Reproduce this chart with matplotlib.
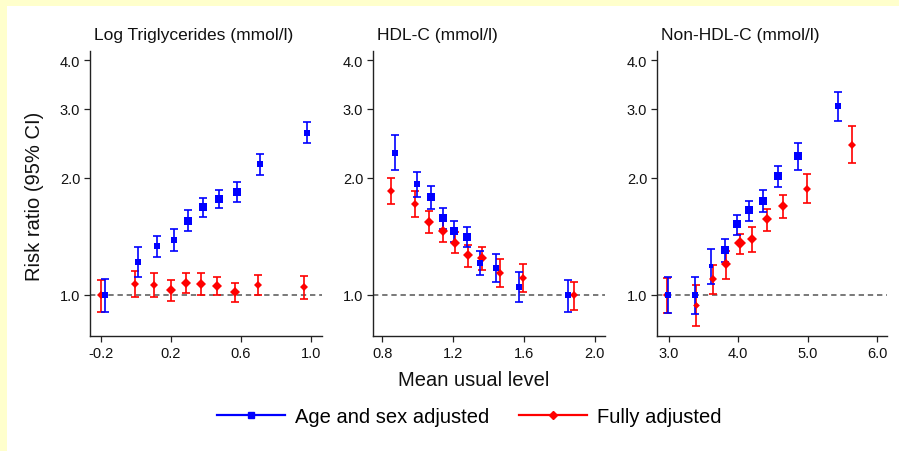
import matplotlib
matplotlib.use('Agg')
import matplotlib.pyplot as plt
from matplotlib.lines import Line2D
from matplotlib.patches import Rectangle
from matplotlib.ticker import FixedLocator, NullLocator

plt.rcParams['font.family'] = ['Liberation Sans', 'DejaVu Sans']

# ---------------- data ----------------
panel_titles = ["Log Triglycerides (mmol/l)", "HDL-C (mmol/l)", "Non-HDL-C (mmol/l)"]
series_labels = ["Age and sex adjusted", "Fully adjusted"]
x_label = "Mean usual level"
y_label = "Risk ratio (95% CI)"
y_ticks = [1.0, 2.0, 3.0, 4.0]
y_ticklabels = ["1.0", "2.0", "3.0", "4.0"]

# Log triglycerides
tg_xticks = [-0.2, 0.2, 0.6, 1.0]
tg_age_x = [-0.175, 0.011, 0.12, 0.217, 0.299, 0.383, 0.476, 0.577, 0.71, 0.98]
tg_age_rr = [1.00, 1.213, 1.333, 1.386, 1.55, 1.678, 1.763, 1.84, 2.16, 2.605]
tg_age_lo = [0.903, 1.11, 1.254, 1.30, 1.459, 1.58, 1.674, 1.735, 2.03, 2.447]
tg_age_hi = [1.10, 1.33, 1.42, 1.476, 1.65, 1.77, 1.86, 1.95, 2.30, 2.77]
tg_full_x = [-0.195, -0.004, 0.106, 0.202, 0.287, 0.373, 0.466, 0.567, 0.697, 0.958]
tg_full_rr = [1.00, 1.067, 1.063, 1.028, 1.071, 1.069, 1.055, 1.016, 1.059, 1.046]
tg_full_lo = [0.906, 0.99, 0.99, 0.963, 1.01, 1.00, 0.998, 0.96, 1.00, 0.977]
tg_full_hi = [1.09, 1.154, 1.137, 1.095, 1.14, 1.139, 1.112, 1.073, 1.127, 1.12]

# HDL-C
hdl_xticks = [0.8, 1.2, 1.6, 2.0]
hdl_age_x = [0.874, 0.996, 1.077, 1.143, 1.207, 1.277, 1.351, 1.441, 1.57, 1.847]
hdl_age_rr = [2.316, 1.92, 1.786, 1.572, 1.456, 1.408, 1.21, 1.173, 1.05, 1.00]
hdl_age_lo = [2.094, 1.78, 1.66, 1.476, 1.37, 1.325, 1.125, 1.082, 0.962, 0.907]
hdl_age_hi = [2.566, 2.07, 1.906, 1.668, 1.55, 1.496, 1.30, 1.27, 1.143, 1.094]
hdl_full_x = [0.847, 0.983, 1.066, 1.14, 1.209, 1.284, 1.364, 1.464, 1.594, 1.883]
hdl_full_rr = [1.85, 1.707, 1.54, 1.456, 1.36, 1.264, 1.244, 1.139, 1.104, 1.00]
hdl_full_lo = [1.714, 1.585, 1.444, 1.364, 1.28, 1.18, 1.16, 1.046, 1.015, 0.915]
hdl_full_hi = [1.995, 1.85, 1.645, 1.55, 1.448, 1.346, 1.33, 1.235, 1.198, 1.082]

# Non-HDL-C
nhdl_xticks = [3.0, 4.0, 5.0, 6.0]
nhdl_age_x = [2.99, 3.386, 3.614, 3.806, 3.977, 4.162, 4.353, 4.567, 4.853, 5.434]
nhdl_age_rr = [1.00, 1.00, 1.19, 1.304, 1.517, 1.654, 1.744, 2.02, 2.275, 3.055]
nhdl_age_lo = [0.899, 0.895, 1.069, 1.213, 1.425, 1.55, 1.63, 1.895, 2.094, 2.80]
nhdl_age_hi = [1.11, 1.11, 1.314, 1.391, 1.606, 1.745, 1.862, 2.14, 2.45, 3.31]
nhdl_full_x = [2.977, 3.39, 3.634, 3.82, 4.02, 4.2, 4.41, 4.648, 4.986, 5.634]
nhdl_full_rr = [1.00, 0.94, 1.10, 1.198, 1.359, 1.391, 1.562, 1.686, 1.873, 2.43]
nhdl_full_lo = [0.901, 0.834, 1.008, 1.10, 1.274, 1.29, 1.46, 1.575, 1.718, 2.18]
nhdl_full_hi = [1.104, 1.061, 1.193, 1.30, 1.434, 1.49, 1.66, 1.80, 2.04, 2.71]

# ---------------- styling ----------------
W, H = 899, 452
BLUE = '#0000FF'
RED = '#FF0000'
YELLOW = '#FFFFCC'

# marker sizes (points) for each panel's points
tg_age_ms = [4.2, 3.8, 5.0, 5.0, 5.6, 5.8, 6.0, 5.6, 5.0, 5.0]
tg_full_ms = [3.7, 4.4, 4.4, 4.6, 4.6, 4.6, 4.8, 4.6, 4.4, 4.4]
hdl_age_ms = [4.2, 5.0, 6.0, 6.0, 6.0, 6.2, 5.0, 5.0, 4.5, 4.5]
hdl_full_ms = [4.0, 4.2, 4.6, 4.6, 4.9, 4.6, 4.6, 4.2, 3.9, 3.7]
nhdl_age_ms = [4.0, 3.8, 3.5, 5.5, 6.2, 6.2, 6.2, 6.2, 5.5, 4.8]
nhdl_full_ms = [4.0, 3.4, 4.0, 4.7, 5.7, 5.0, 5.3, 5.0, 4.4, 4.0]

panels = [
    dict(title=panel_titles[0], xticks=tg_xticks, xlim=(-0.26, 1.063),
         age=(tg_age_x, tg_age_rr, tg_age_lo, tg_age_hi, tg_age_ms),
         full=(tg_full_x, tg_full_rr, tg_full_lo, tg_full_hi, tg_full_ms),
         left=90, right=322),
    dict(title=panel_titles[1], xticks=hdl_xticks, xlim=(0.747, 2.057),
         age=(hdl_age_x, hdl_age_rr, hdl_age_lo, hdl_age_hi, hdl_age_ms),
         full=(hdl_full_x, hdl_full_rr, hdl_full_lo, hdl_full_hi, hdl_full_ms),
         left=373, right=605),
    dict(title=panel_titles[2], xticks=nhdl_xticks, xlim=(2.834, 6.137),
         age=(nhdl_age_x, nhdl_age_rr, nhdl_age_lo, nhdl_age_hi, nhdl_age_ms),
         full=(nhdl_full_x, nhdl_full_rr, nhdl_full_lo, nhdl_full_hi, nhdl_full_ms),
         left=657, right=887),
]

fig = plt.figure(figsize=(W / 100, H / 100), dpi=100, facecolor=YELLOW)
fig.patches.append(Rectangle((7 / W, 0), 1, (H - 7) / H, transform=fig.transFigure,
                             facecolor='white', edgecolor='none', zorder=-10))

top_px, bot_px = 52, 337
for p in panels:
    ax = fig.add_axes([p['left'] / W, (H - bot_px) / H,
                       (p['right'] - p['left']) / W, (bot_px - top_px) / H])
    ax.set_zorder(1)
    ax.patch.set_visible(False)
    ax.set_yscale('log')
    ax.set_ylim(0.785, 4.22)
    ax.set_xlim(*p['xlim'])
    ax.axhline(1.0, color='#555555', lw=1.1, ls=(0, (3.5, 2.5)), zorder=1)

    for key, color, marker in (('full', RED, 'D'), ('age', BLUE, 's')):
        xs, rr, lo, hi, ms = p[key]
        for x, r, l, h, m in zip(xs, rr, lo, hi, ms):
            ax.errorbar([x], [r], yerr=[[r - l], [h - r]], fmt='none',
                        ecolor=color, elinewidth=1.2, capsize=3.0, capthick=1.2,
                        zorder=2)
            ax.plot([x], [r], marker=marker, color=color, markersize=m,
                    markeredgewidth=0, linestyle='none', zorder=3)

    ax.yaxis.set_major_locator(FixedLocator(y_ticks))
    ax.yaxis.set_minor_locator(NullLocator())
    ax.set_yticklabels(y_ticklabels)
    ax.set_xticks(p['xticks'])
    ax.set_xticklabels([f"{t:.1f}" for t in p['xticks']])
    for s in ('top', 'right'):
        ax.spines[s].set_visible(False)
    for s in ('left', 'bottom'):
        ax.spines[s].set_color('#222222')
        ax.spines[s].set_linewidth(1.0)
    ax.tick_params(axis='both', which='major', length=4.5, width=0.9,
                   color='#222222', labelsize=10.5, labelcolor='#111111', pad=2.5)
    ax.text(4 / (p['right'] - p['left']), 1.03, p['title'], transform=ax.transAxes,
            ha='left', va='bottom', fontsize=12.5, color='#111111')

fig.text(35 / W, 1 - 196 / H, y_label, rotation=90, ha='center', va='center',
         fontsize=14.5, color='#111111')
fig.text(474 / W, 1 - 381 / H, x_label, ha='center', va='center',
         fontsize=14.5, color='#111111')

handles = [Line2D([], [], color=BLUE, lw=1.6, marker='s', markersize=5),
           Line2D([], [], color=RED, lw=1.6, marker='D', markersize=4.5)]
fig.legend(handles, series_labels, loc='center', bbox_to_anchor=(469 / W, 1 - 418 / H),
           ncol=2, frameon=False, fontsize=14.5, handlelength=3.4,
           handletextpad=0.45, columnspacing=1.5, borderpad=0)

fig.savefig('out.png', dpi=100, facecolor=YELLOW)
